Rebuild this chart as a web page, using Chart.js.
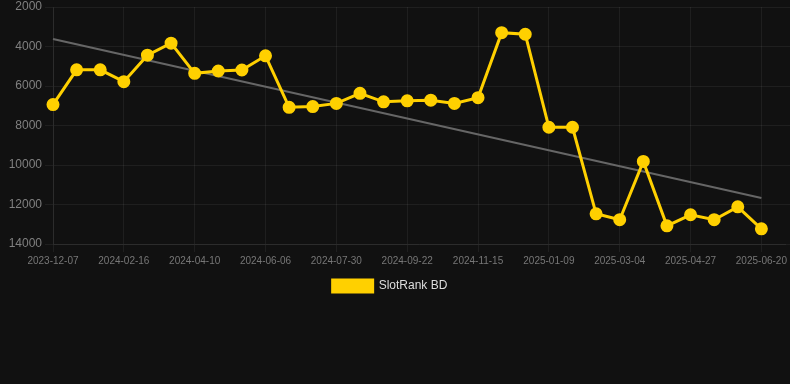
<!DOCTYPE html>
<html>
<head>
<meta charset="utf-8">
<script src="https://cdn.jsdelivr.net/npm/chart.js@4"></script>
<style>
    body { margin: 0; background: #111111; overflow: hidden; }
    #wrap { width: 794px; height: 304px; margin-top: -2px; position: relative; }
</style>
</head>
<body>
<div id="wrap"><canvas id="rankChart"></canvas></div>
<script>
const dateLabels = [
    '2023-12-07', '2023-12-31', '2024-01-24', '2024-02-16', '2024-03-04', '2024-03-22',
    '2024-04-10', '2024-04-29', '2024-05-18', '2024-06-06', '2024-06-24', '2024-07-12',
    '2024-07-30', '2024-08-17', '2024-09-04', '2024-09-22', '2024-10-10', '2024-10-28',
    '2024-11-15', '2024-12-03', '2024-12-21', '2025-01-09', '2025-01-27', '2025-02-14',
    '2025-03-04', '2025-03-22', '2025-04-09', '2025-04-27', '2025-05-15', '2025-06-02',
    '2025-06-20', '2025-07-08'
];
const rankValues = [
    6940, 5180, 5180, 5780, 4440, 3830, 5360, 5240, 5190, 4470, 7080,
    7040, 6880, 6370, 6800, 6750, 6720, 6880, 6590, 3300, 3380,
    8090, 8090, 12470, 12770, 9820, 13080, 12520, 12770, 12120, 13230
];
// trend line end points
const trendStart = 3620;
const trendEnd = 11670;
const yTicks = [2000, 4000, 6000, 8000, 10000, 12000, 14000];

const gridColor = 'rgba(255, 255, 255, 0.06)';

// nudge the legend a little to the left, like the original
const legendShift = {
    id: 'legendShift',
    afterLayout(chart) {
        chart.legend.left -= 7;
        chart.legend.right -= 7;
    }
};

new Chart(document.getElementById('rankChart'), {
    type: 'line',
    data: {
        labels: dateLabels,
        datasets: [{
            label: 'SlotRank BD',
            data: rankValues,
            borderColor: '#FFD000',
            backgroundColor: '#FFD000',
            borderWidth: 3,
            pointRadius: 5,
            pointHoverRadius: 6,
            tension: 0
        }, {
            label: 'Trend',
            data: [
                { x: dateLabels[0], y: trendStart },
                { x: dateLabels[rankValues.length - 1], y: trendEnd }
            ],
            borderColor: '#666666',
            borderWidth: 2,
            pointRadius: 0,
            fill: false
        }]
    },
    options: {
        responsive: true,
        maintainAspectRatio: false,
        animation: false,
        scales: {
            x: {
                grid: { color: gridColor },
                border: { color: gridColor },
                afterFit: function(axis) { axis.paddingRight = 0; },
                ticks: {
                    color: '#777777',
                    font: { family: 'Liberation Sans', size: 10 },
                    autoSkip: false,
                    maxRotation: 0,
                    // only every third date is labelled
                    callback: function(value, index) {
                        return index % 3 === 0 && index < rankValues.length ? dateLabels[index] : null;
                    }
                }
            },
            y: {
                reverse: true,
                min: yTicks[0],
                max: yTicks[yTicks.length - 1],
                grid: { color: gridColor },
                border: { color: gridColor },
                afterFit: function(axis) {
                    axis.width = 53;
                    axis.paddingTop = 4;
                },
                ticks: {
                    stepSize: 2000,
                    color: '#808080',
                    font: { family: 'Liberation Sans', size: 12 },
                    callback: function(value) { return String(value); }
                }
            },
            yRight: {
                position: 'right',
                reverse: true,
                min: yTicks[0],
                max: yTicks[yTicks.length - 1],
                grid: { color: gridColor, drawOnChartArea: false, tickLength: 5 },
                border: { display: false },
                ticks: { stepSize: 2000, display: false }
            }
        },
        plugins: {
            legend: {
                display: true,
                position: 'bottom',
                labels: {
                    color: '#dddddd',
                    font: { family: 'Liberation Sans', size: 12 },
                    filter: function(item) { return item.text !== 'Trend'; }
                }
            },
            tooltip: { enabled: false }
        }
    },
    plugins: [legendShift]
});
</script>
</body>
</html>
